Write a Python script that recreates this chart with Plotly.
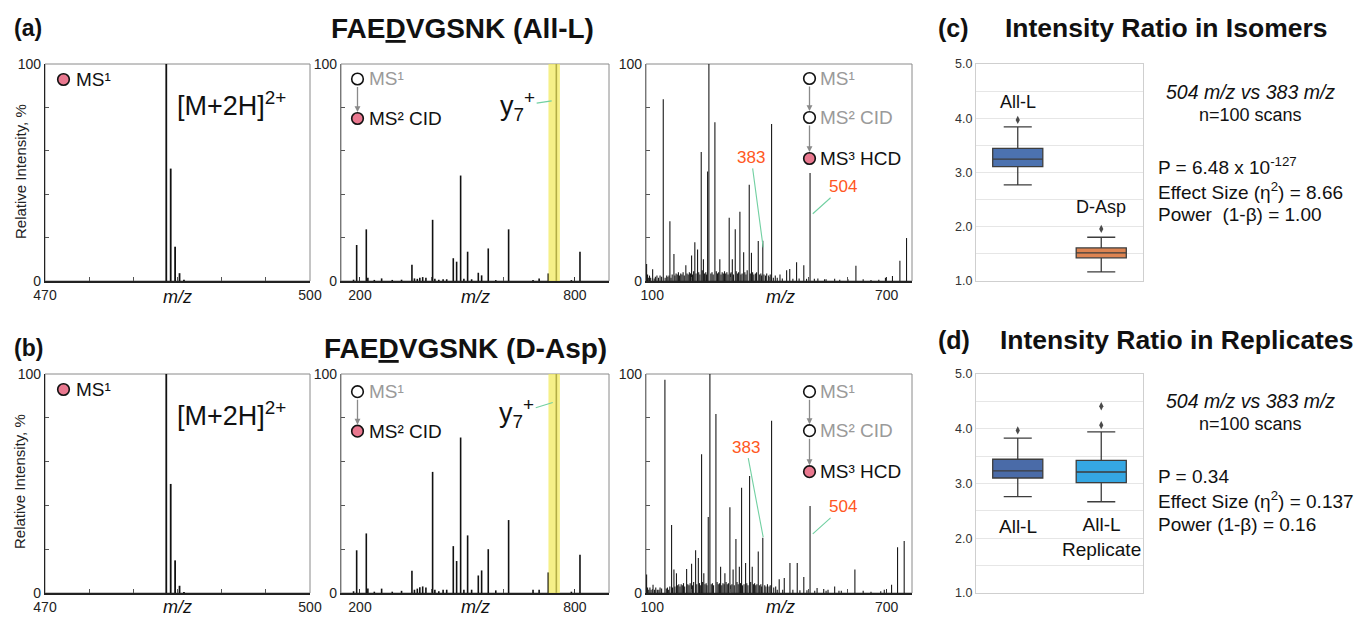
import plotly.graph_objects as go

W, H = 1359, 618
ARIAL = "Liberation Sans, Arial, Helvetica, sans-serif"
NARROW = "Liberation Sans Narrow, Arial Narrow, Liberation Sans, Arial, sans-serif"

# ---------------- data ----------------
# MS1 isotope envelope of [M+2H]2+
ms1_mz = [483.73, 484.23, 484.73, 485.23, 485.73]
ms1_a_int = [100, 51.8, 15.8, 3.6, 0.6]
ms1_b_int = [100, 49.8, 14.9, 3.3, 0.5]

# MS2 CID
ms2_mz = [182, 190.7, 217.6, 222, 240, 260.4, 290, 316, 345, 352, 360, 367, 375, 384, 402.7,
          409, 420, 432, 442, 460.4, 469.7, 480.9, 490, 500.4, 511.6, 530.2, 539.5, 558, 579,
          614.8, 683, 700, 725.5, 748, 790, 814]
ms2_a_int = [0.6, 16.6, 23.8, 1.5, 0.5, 1.2, 0.5, 0.6, 7.5, 1.2, 1.0, 1.5, 1.8, 1.5, 28.2,
             1.0, 0.6, 0.8, 0.8, 10.5, 8.9, 48.6, 1.0, 13.5, 0.8, 3.8, 2.6, 15.0, 0.4,
             23.8, 0.5, 1.2, 3.5, 100, 0.4, 13.5]
ms2_b_int = [0.8, 19.5, 27.2, 2.0, 0.6, 2.0, 0.6, 1.0, 10.2, 1.5, 2.0, 2.6, 3.0, 2.5, 55.3,
             1.5, 0.8, 1.5, 1.5, 21.4, 14.6, 71.0, 1.5, 26.3, 1.5, 8.0, 10.3, 20.0, 1.2,
             33.3, 1.5, 1.5, 9.4, 100, 0.6, 17.5]
y7_window = [726, 758]

# MS3 HCD major peaks (m/z, %)
ms3_a_peaks = [(85.5, 7.8), (101, 5.4), (128.2, 83.7), (145.2, 27.5), (155.5, 12.4), (186, 7.3),
               (200.7, 11.7), (209, 17.9), (216, 14.5), (225.4, 59.4), (231, 10), (241.7, 50.5),
               (245, 100), (260.4, 73.1), (273, 10), (297, 29.1), (305, 10), (312.5, 23.8),
               (324.4, 31.9), (334, 13.2), (348.3, 44.3), (354, 13), (371.4, 18.4), (383, 18.5),
               (405.5, 72.3), (427, 3), (444, 5), (452, 5.5), (469.5, 8.6), (488, 7.3),
               (504, 49.8), (524, 1.2), (541, 0.8), (567, 1), (601, 0.8), (621.4, 7),
               (697, 1.5), (715, 2.3), (734, 9.3), (751, 19.8)]
ms3_b_peaks = [(85.5, 8.4), (102, 3.8), (117, 1.5), (132.4, 97.4), (149.5, 31), (155.5, 10.7),
               (162, 9), (188, 11), (200.7, 13.4), (211, 19.5), (218, 16), (226.3, 63.4),
               (232, 9), (243.4, 34.7), (247.6, 100), (263, 81.7), (275, 12), (286, 9),
               (298.8, 39.2), (307, 10.7), (314.2, 24.7), (323, 12), (328.7, 48.1), (339, 13.7),
               (349.2, 53.4), (356, 12), (371.4, 19), (383, 25.2), (405.5, 78.6), (425, 6.3),
               (438, 6.9), (452.5, 13.7), (471.2, 13.7), (488, 7.3), (504, 39.7), (522, 2.3),
               (539, 1.8), (550, 1.5), (567, 3), (584, 1), (618.8, 10.7), (694, 1.5),
               (712.7, 3.8), (728, 20.9), (745, 23.7)]
# low-level fragment "grass" (m/z, %)
ms3_a_minor = [(83, 2.5), (88, 3), (90, 1.5), (93, 2.5), (96, 1.5), (105, 1.2), (108, 2), (112, 2.5),
               (116, 1.5), (120, 2.5), (124, 2), (133, 1.5), (137, 2.5), (140, 2), (143, 2.5),
               (148, 1.5), (151, 3), (158, 2.5), (161, 3.5), (164, 3), (167, 4), (170, 2.5), (173, 3.5),
               (176, 3), (179, 4), (182, 2.5), (189, 3.5), (192, 3), (195, 4), (198, 3.5), (203, 3),
               (206, 4.5), (212, 3.5), (219, 4), (222, 3), (228, 5), (234, 3.5), (237, 4), (239, 3),
               (250, 3.5), (253, 4), (256, 3), (264, 4.5), (267, 3.5), (270, 4), (276, 3), (279, 4),
               (282, 3.5), (285, 4.5), (288, 3.5), (291, 4), (294, 3), (300, 3.5), (302, 4), (308, 3),
               (315, 4.5), (318, 3.5), (321, 4), (327, 3), (330, 3.5), (337, 4), (340, 3), (343, 5),
               (351, 3.5), (357, 4), (360, 3), (364, 3.5), (367, 4), (375, 3), (378, 3.5), (380, 2.5),
               (386, 3), (390, 2.5), (393, 3.5), (398, 2.5), (402, 3), (410, 1.5), (415, 2.5), (420, 1.5),
               (433, 1.2), (460, 1), (476, 1.2), (495, 1), (515, 1), (545, 0.8), (580, 0.6),
               (640, 0.8), (660, 0.5), (680, 0.6)]
ms3_b_minor = [(83, 3), (88, 2.5), (91, 1.5), (94, 2.5), (97, 1.5), (106, 1.5), (109, 2.5), (113, 1.5),
               (120, 2.5), (124, 2), (136, 2), (139, 2.5), (142, 1.5), (145, 3), (152, 2.5),
               (158, 3), (165, 3.5), (168, 4), (171, 3), (174, 4), (177, 3.5), (180, 4.5), (183, 3),
               (191, 4), (194, 3.5), (197, 4.5), (203, 3.5), (206, 5), (214, 4), (221, 4.5), (224, 3.5),
               (229, 5), (235, 4), (238, 4.5), (240, 3.5), (251, 4), (254, 4.5), (257, 3.5), (266, 5),
               (269, 4), (272, 4.5), (278, 3.5), (281, 4.5), (284, 4), (289, 5), (292, 4), (295, 4.5),
               (301, 3.5), (304, 4), (310, 3.5), (317, 5), (320, 4), (326, 4.5), (331, 3.5), (335, 4),
               (342, 4.5), (345, 3.5), (352, 5), (359, 4), (362, 4.5), (365, 3.5), (368, 4), (375, 3.5),
               (378, 4), (380, 3), (388, 3.5), (391, 3), (395, 4), (399, 3), (402, 3.5), (411, 2.5),
               (416, 3), (420, 1.5), (434, 1.5), (460, 1.5), (478, 1.2), (496, 1.2), (516, 1),
               (545, 1), (578, 1), (640, 1), (660, 0.6), (685, 0.8)]

# box-plot summaries (ratio 504/383)
box_c_names = ["All-L", "D-Asp"]
box_c_q1 = [3.107, 1.427]
box_c_med = [3.247, 1.52]
box_c_q3 = [3.443, 1.61]
box_c_lo = [2.771, 1.17]
box_c_hi = [3.84, 1.806]
box_c_out = [[3.97], [1.96]]
box_c_colors = ["#4c72b0", "#dd8452"]

box_d_names = ["All-L", "All-L<br>Replicate"]
box_d_q1 = [3.10, 3.015]
box_d_med = [3.229, 3.21]
box_d_q3 = [3.443, 3.424]
box_d_lo = [2.759, 2.667]
box_d_hi = [3.827, 3.943]
box_d_out = [[3.97], [4.066, 4.41]]
box_d_colors = ["#4a6ba8", "#35a7e3"]


# ---------------- helpers ----------------
def sticks(mz, inten):
    xs, ys = [], []
    for m, v in zip(mz, inten):
        xs += [m, m, None]
        ys += [0, v, None]
    return xs, ys


def px(x):
    return x / W


def py(y):
    return 1 - y / H


def xdom(a, b):
    return [a / W, b / W]


def ydom(top, bottom):
    return [1 - bottom / H, 1 - top / H]


fig = go.Figure()

ROW_A = (64, 281)
ROW_B = (374, 593)
COLS = [(45, 310), (341, 609), (646, 912), (976, 1143)]


def add_stick(idx, mz, inten, width=1.4, color="#111"):
    xs, ys = sticks(mz, inten)
    fig.add_trace(go.Scatter(x=xs, y=ys, mode="lines", line=dict(color=color, width=width),
                             xaxis=f"x{idx}", yaxis=f"y{idx}", hoverinfo="skip", showlegend=False))


add_stick(1, ms1_mz, ms1_a_int, 1.8)
add_stick(5, ms1_mz, ms1_b_int, 1.8)
add_stick(2, ms2_mz, ms2_a_int, 1.6)
add_stick(6, ms2_mz, ms2_b_int, 1.6)
for idx, major, minor in [(3, ms3_a_peaks, ms3_a_minor), (7, ms3_b_peaks, ms3_b_minor)]:
    allp = sorted(major + minor)
    add_stick(idx, [p[0] for p in allp], [p[1] for p in allp], 1.1, "#1a1a1a")


def add_boxes(idx, names, q1, med, q3, lo, hi, outs, colors):
    for i in range(len(names)):
        fig.add_trace(go.Box(x=[i], q1=[q1[i]], median=[med[i]], q3=[q3[i]],
                             lowerfence=[lo[i]], upperfence=[hi[i]],
                             fillcolor=colors[i], line=dict(color="#3d3d3d", width=1.3),
                             width=0.6, whiskerwidth=0.56, boxpoints=False,
                             xaxis=f"x{idx}", yaxis=f"y{idx}", hoverinfo="skip",
                             showlegend=False))
        fig.add_trace(go.Scatter(x=[i] * len(outs[i]), y=outs[i], mode="markers",
                                 marker=dict(symbol="diamond-tall", size=6, color="#4a4a4a"),
                                 xaxis=f"x{idx}", yaxis=f"y{idx}", hoverinfo="skip",
                                 showlegend=False))


add_boxes(4, box_c_names, box_c_q1, box_c_med, box_c_q3, box_c_lo, box_c_hi, box_c_out, box_c_colors)
add_boxes(8, box_d_names, box_d_q1, box_d_med, box_d_q3, box_d_lo, box_d_hi, box_d_out, box_d_colors)

# ---------------- axes ----------------
layout = {}
ms_specs = {1: ([470, 500], [470, 500], [475, 480, 485, 490, 495]),
            2: ([147, 895], [200, 800], [400, 600]),
            3: ([84, 765], [100, 700], [200, 300, 400, 500, 600])}
shapes = []
for row, (top, bot) in enumerate([ROW_A, ROW_B]):
    for col in range(4):
        idx = row * 4 + col + 1
        s = "" if idx == 1 else str(idx)
        if col < 3:
            rng, tv, mtv = ms_specs[col + 1]
            layout["xaxis" + s] = dict(
                domain=xdom(*COLS[col]), range=rng, anchor="y" + s, showline=True,
                automargin=False,
                linecolor="#222", linewidth=1.5, ticks="inside", ticklen=4, tickcolor="#333",
                tickvals=tv, tickfont=dict(size=14, color="#222", family=ARIAL),
                showgrid=False, zeroline=False,
                minor=dict(ticks="inside", ticklen=4, tickvals=mtv, tickcolor="#555"))
            layout["yaxis" + s] = dict(
                domain=ydom(top, bot), range=[0, 100], anchor="x" + s, showline=True,
                automargin=False,
                linecolor="#222" if col == 0 else "#777", linewidth=1.3, ticks="inside",
                ticklen=4, tickcolor="#333", tickvals=[0, 100],
                tickfont=dict(size=14, color="#222", family=ARIAL),
                showgrid=False, zeroline=False,
                minor=dict(ticks="inside", ticklen=4, tickvals=[20, 40, 60, 80], tickcolor="#555"))
            shapes.append(dict(type="rect", xref=f"x{s} domain", yref=f"y{s} domain",
                               x0=0, x1=1, y0=0, y1=1, line=dict(color="#8a8a8a", width=1),
                               layer="below"))
        else:
            layout["xaxis" + s] = dict(
                domain=xdom(*COLS[col]), range=[-0.5, 1.5], anchor="y" + s,
                automargin=False,
                showline=True, mirror=True, linecolor="#cfcfcf", linewidth=1.2,
                showticklabels=False, ticks="", showgrid=False, zeroline=False)
            layout["yaxis" + s] = dict(
                domain=ydom(top, bot), range=[1, 5], anchor="x" + s,
                automargin=False,
                showline=True, mirror=True, linecolor="#cfcfcf", linewidth=1.2,
                tickvals=[1, 2, 3, 4, 5], ticktext=["1.0", "2.0", "3.0", "4.0", "5.0"],
                tickfont=dict(size=12.5, color="#333", family=ARIAL), ticks="",
                showgrid=True, gridcolor="#e6e6e6", gridwidth=1, zeroline=False,
                minor=dict(tickvals=[1.5, 2.5, 3.5, 4.5], showgrid=True, gridcolor="#e6e6e6"))

# yellow y7 window in MS2 panels
for s in ["2", "6"]:
    shapes.append(dict(type="rect", xref="x" + s, yref=f"y{s} domain", x0=y7_window[0],
                       x1=y7_window[1], y0=0, y1=1, fillcolor="rgba(243,234,90,0.72)",
                       line=dict(width=0), layer="above"))

ann = []


def T(text, x, y, size, color="#111", family=ARIAL, xanchor="center", **kw):
    ann.append(dict(text=text, x=px(x), y=py(y), xref="paper", yref="paper", showarrow=False,
                    xanchor=xanchor, yanchor="middle",
                    font=dict(size=size, color=color, family=family), **kw))


PINK = "#e9788f"
GRAY_T = "#9a9a9a"


def circle(cx, cy, filled, r=5.8):
    shapes.append(dict(type="circle", xref="paper", yref="paper",
                       x0=px(cx - r), x1=px(cx + r), y0=py(cy + r), y1=py(cy - r),
                       fillcolor=PINK if filled else "white",
                       line=dict(color="#111", width=1.6), layer="above"))


def down_arrow(cx, y_from, y_to):
    ann.append(dict(text="", x=px(cx), y=py(y_to), xref="paper", yref="paper",
                    showarrow=True, ax=0, ay=-(y_to - y_from), arrowhead=2, arrowsize=0.9,
                    arrowwidth=1.3, arrowcolor="#8a8a8a", standoff=0, startstandoff=0))


# panel titles
ul = "FAE<span style='text-decoration:underline'>D</span>VGSNK"
T("<b>(a)</b>", 28, 28, 23, "#111", NARROW)
T(f"<b>{ul} (All-L)</b>", 462, 28, 28, "#111", NARROW)
T("<b>(b)</b>", 28, 348, 23, "#111", NARROW)
T(f"<b>{ul} (D-Asp)</b>", 465, 348, 28, "#111", NARROW)
T("<b>(c)</b>", 953, 28, 25, "#111")
T("<b>Intensity Ratio in Isomers</b>", 1166, 28, 26.5, "#111")
T("<b>(d)</b>", 954, 340, 25, "#111")
T("<b>Intensity Ratio in Replicates</b>", 1176, 340, 26.5, "#111")

for off in [0, 310]:
    # y title and m/z labels
    T("Relative Intensity, %", 20, 172 + off, 15, "#222", textangle=-90)
    T("<i>m/z</i>", 177, 297 + off, 18, "#111")
    T("<i>m/z</i>", 476, 297 + off, 18, "#111")
    T("<i>m/z</i>", 780, 297 + off, 18, "#111")
    # MS1 panel
    circle(63.5, 79.5 + off, True)
    T("MS¹", 74, 79.5 + off, 19, "#111", xanchor="left")
    T("[M+2H]<sup>2+</sup>", 175, 104 + off, 27, "#111", xanchor="left")

# MS2 flow
for cy0 in [79, 391.7]:
    circle(357.5, cy0, False)
    circle(357.5, cy0 + 39.5, True)
    down_arrow(357.5, cy0 + 6.5, cy0 + 33)
    T("MS¹", 367, cy0, 19, GRAY_T, xanchor="left")
    T("MS² CID", 367, cy0 + 39.5, 19, "#111", xanchor="left")

# MS3 flow
for cy0 in [78.5, 391.7]:
    circle(809.5, cy0, False)
    circle(809.5, cy0 + 39, False)
    circle(809.5, cy0 + 80, True)
    down_arrow(809.5, cy0 + 6.5, cy0 + 32.5)
    down_arrow(809.5, cy0 + 45.5, cy0 + 73.5)
    T("MS¹", 818, cy0, 19, GRAY_T, xanchor="left")
    T("MS² CID", 818, cy0 + 39, 19, GRAY_T, xanchor="left")
    T("MS³ HCD", 818, cy0 + 80, 19, "#111", xanchor="left")

GREEN = "#72d0a2"
ORANGE = "#ff5722"


def callout(text, xa, ya, x, y, ax, ay, size, color):
    ann.append(dict(text=text, x=x, y=y, xref=xa, yref=ya, showarrow=True, ax=ax, ay=ay,
                    arrowhead=0, arrowwidth=1.1, arrowcolor=GREEN, standoff=0,
                    font=dict(size=size, color=color, family=ARIAL)))


callout("y<sub>7</sub><sup>+</sup>", "x2", "y2", 735, 83, -34, 5, 27, "#111")
callout("y<sub>7</sub><sup>+</sup>", "x6", "y6", 738, 87, -36, 11, 27, "#111")
callout("383", "x3", "y3", 384, 15.5, -12, -90, 17, ORANGE)
callout("504", "x3", "y3", 511, 31, 30, -27, 17, ORANGE)
callout("383", "x7", "y7", 384, 25.5, -17, -90, 17, ORANGE)
callout("504", "x7", "y7", 511, 27, 30, -27, 17, ORANGE)

# box-panel labels
ann.append(dict(text="All-L", x=0, y=4.3, xref="x4", yref="y4", showarrow=False,
                font=dict(size=18, color="#111", family=ARIAL)))
ann.append(dict(text="D-Asp", x=1, y=2.37, xref="x4", yref="y4", showarrow=False,
                font=dict(size=18, color="#111", family=ARIAL)))
ann.append(dict(text=box_d_names[0], x=0, y=2.22, xref="x8", yref="y8", showarrow=False,
                font=dict(size=19, color="#111", family=ARIAL)))
ann.append(dict(text=box_d_names[1], x=1, y=2.02, xref="x8", yref="y8", showarrow=False,
                font=dict(size=19, color="#111", family=ARIAL)))

# stats text
T("<i>504 m/z vs 383 m/z</i>", 1250, 92, 19.5)
T("n=100 scans", 1250, 115, 18)
T("P = 6.48 x 10<sup>-127</sup>", 1156, 166, 19, xanchor="left")
T("Effect Size (η<sup>2</sup>) = 8.66", 1156, 191, 19, xanchor="left")
T("Power  (1-β) = 1.00", 1156, 215, 19, xanchor="left")

T("<i>504 m/z vs 383 m/z</i>", 1250, 401, 19.5)
T("n=100 scans", 1250, 424, 18)
T("P = 0.34", 1156, 476, 19, xanchor="left")
T("Effect Size (η<sup>2</sup>) = 0.137", 1156, 500, 19, xanchor="left")
T("Power (1-β) = 0.16", 1156, 524, 19, xanchor="left")

fig.update_layout(width=W, height=H, margin=dict(l=0, r=0, t=0, b=0, autoexpand=False),
                  paper_bgcolor="white", plot_bgcolor="white",
                  font=dict(family=ARIAL), shapes=shapes, annotations=ann,
                  showlegend=False, **layout)

fig.write_html("out.html", config={"displayModeBar": False},
               post_script="document.body.style.margin='0';document.body.style.overflow='hidden';")
